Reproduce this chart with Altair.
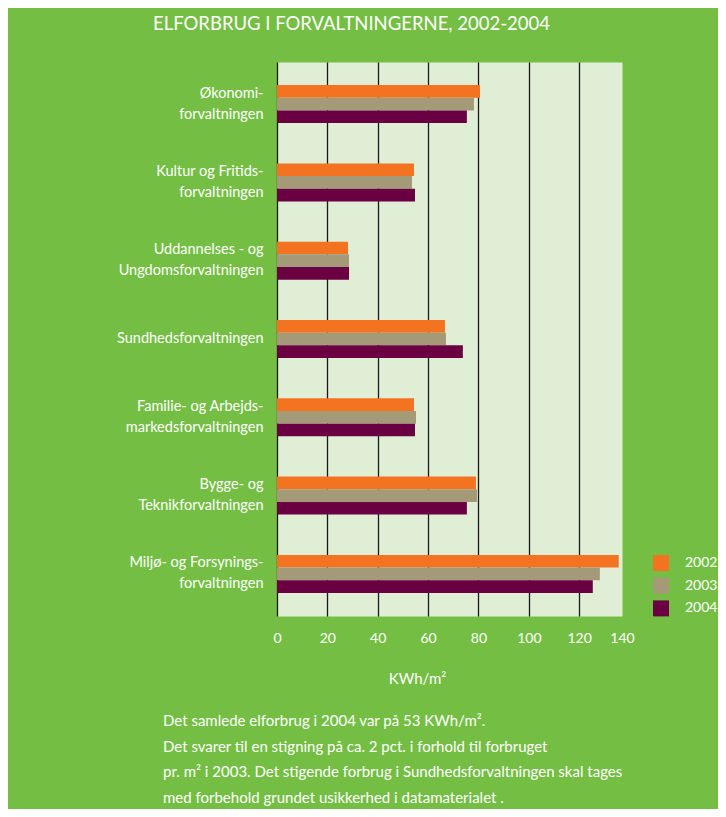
import altair as alt
import pandas as pd

categories = [
    "Økonomi-|forvaltningen",
    "Kultur og Fritids-|forvaltningen",
    "Uddannelses - og |Ungdomsforvaltningen",
    "Sundhedsforvaltningen",
    "Familie- og Arbejds-|markedsforvaltningen",
    "Bygge- og |Teknikforvaltningen",
    "Miljø- og Forsynings-|forvaltningen",
]
years = ["2002", "2003", "2004"]
v2002 = [80.6, 54.4, 28.2, 66.7, 54.4, 79.0, 135.7]
v2003 = [78.2, 53.6, 28.6, 67.1, 55.2, 79.4, 128.2]
v2004 = [75.4, 54.8, 28.6, 73.8, 54.8, 75.4, 125.4]
colors = ["#F37321", "#A59A78", "#6A0042"]
tick_values = [0, 20, 40, 60, 80, 100, 120, 137]

title_text = "ELFORBRUG I FORVALTNINGERNE, 2002-2004"
axis_title = "KWh/m²"
footnote = [
    "Det samlede elforbrug i 2004 var på 53 KWh/m².",
    "Det svarer til en stigning på ca. 2 pct. i forhold til forbruget",
    "pr. m² i 2003. Det stigende forbrug i Sundhedsforvaltningen skal tages",
    "med forbehold grundet usikkerhed i datamaterialet .",
]

rows = []
for yr, vals in zip(years, [v2002, v2003, v2004]):
    for c, v in zip(categories, vals):
        rows.append({"cat": c, "year": yr, "value": v})
df = pd.DataFrame(rows)

FONT = "Lato"

bars = alt.Chart(df).mark_bar().encode(
    x=alt.X(
        "value:Q",
        scale=alt.Scale(domain=[0, 137], nice=False),
        axis=alt.Axis(
            values=tick_values,
            labelExpr="datum.value > 130 ? '140' : datum.label",
            gridOpacity={"condition": {"test": "datum.value > 130", "value": 0}, "value": 1},
            grid=True,
            gridColor="#1a1a1a",
            gridWidth=1.3,
            domain=False,
            ticks=False,
            labelFlush=False,
            labelColor="white",
            labelFont=FONT,
            labelFontSize=14,
            labelPadding=15,
            titleColor="white",
            titleFont=FONT,
            titleFontSize=15,
            titleFontWeight="normal",
            titleX=140,
            titleY=67,
            titleBaseline="alphabetic",
        ),
        title=axis_title,
    ),
    y=alt.Y(
        "cat:N",
        sort=categories,
        scale=alt.Scale(paddingInner=0.515, paddingOuter=0.295),
        axis=alt.Axis(
            labelExpr="split(datum.label, '|')",
            labelOffset={"condition": {"test": "indexof(datum.value, '|') >= 0", "value": -10.5}, "value": 0},
            grid=False,
            domain=False,
            ticks=False,
            labelColor="white",
            labelFont=FONT,
            labelFontSize=14.5,
            labelPadding=14,
            labelLineHeight=21,
            labelLimit=300,
            labelAlign="right",
            title=None,
        ),
    ),
    yOffset=alt.YOffset("year:N", sort=years, scale=alt.Scale(paddingInner=0, paddingOuter=0)),
    color=alt.Color(
        "year:N",
        scale=alt.Scale(domain=years, range=colors),
        legend=alt.Legend(
            orient="none",
            legendX=376,
            legendY=493,
            title=None,
            symbolType="square",
            symbolSize=256,
            symbolStrokeWidth=0,
            labelColor="white",
            labelFont=FONT,
            labelFontSize=14,
            labelOffset=16,
            rowPadding=6.7,
            padding=0,
        ),
    ),
)

note = alt.Chart(pd.DataFrame({"a": [0]})).mark_text(
    text=footnote,
    align="left",
    baseline="alphabetic",
    lineHeight=25.5,
    fontSize=15,
    font=FONT,
    color="white",
).encode(x=alt.value(-114), y=alt.value(664))

chart = alt.layer(bars, note).properties(
    width=345,
    height=554,
    background="#74BE44",
    padding={"left": 269, "top": 54, "right": 96, "bottom": 193},
    autosize=alt.AutoSizeParams(type="none"),
    title=alt.Title(
        title_text,
        anchor="start",
        frame="group",
        dx=-124,
        offset=14,
        baseline="alphabetic",
        color="white",
        font=FONT,
        fontSize=18.5,
        fontWeight="normal",
    ),
).configure_view(fill="#E1EED6", stroke="transparent")

chart.save("out.html", embed_options={"renderer": "svg", "actions": False})
